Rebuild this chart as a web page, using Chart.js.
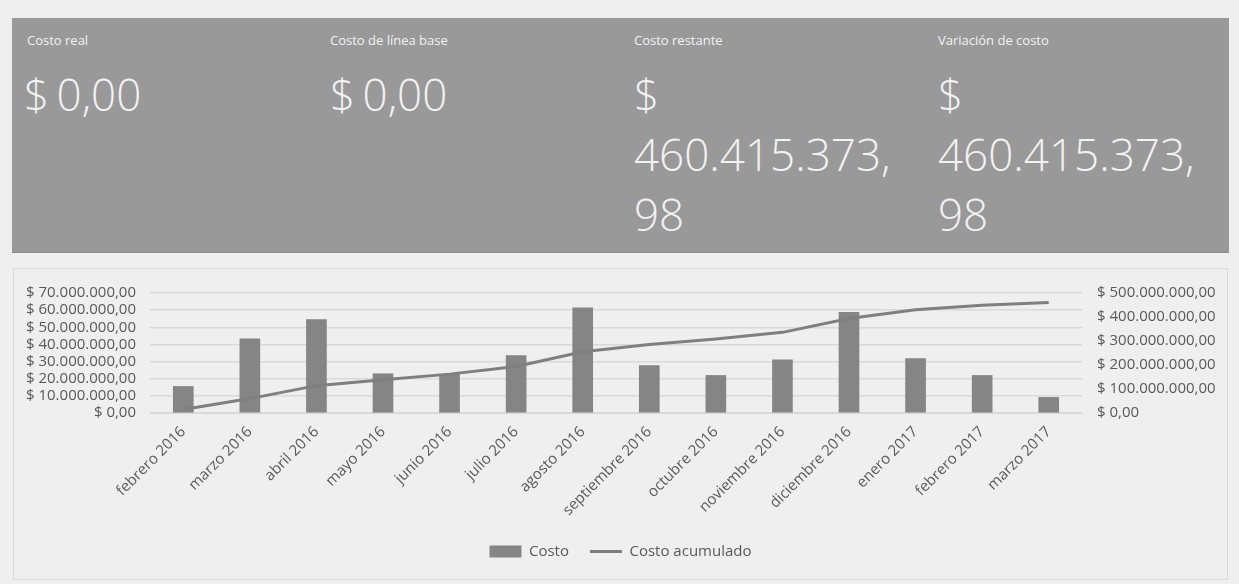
<!DOCTYPE html>
<html>
<head>
<meta charset="utf-8">
<script src="https://cdn.jsdelivr.net/npm/chart.js@4.4.1/dist/chart.umd.min.js"></script>
<style>
  html, body { margin: 0; padding: 0; background: #efefef; }
  body { width: 1239px; height: 584px; position: relative; overflow: hidden; font-family: "Open Sans", "Noto Sans", sans-serif; }
  .panel { position: absolute; left: 12px; top: 18px; width: 1217px; height: 234px; background: #999999; border-bottom: 1px solid #8c8c8c; }
  .kpi { position: absolute; top: 0; width: 300px; color: #f2f2f2; }
  .kpi .lbl { position: absolute; top: 14px; font-size: 13px; line-height: 16px; white-space: nowrap; }
  .kpi .val { position: absolute; top: 46px; font-size: 44px; line-height: 60px; font-weight: 300; white-space: nowrap; word-spacing: -4px; }
  .box { position: absolute; left: 13px; top: 268px; width: 1213px; height: 310px; border: 1px solid #d9d9d9; background: #efefef; }
  .box canvas { position: absolute; left: 0; top: 0; }
</style>
</head>
<body>
<div class="panel">
  <div class="kpi" style="left:12px"><div class="lbl" style="left:3px">Costo real</div><div class="val">$ 0,00</div></div>
  <div class="kpi" style="left:318px"><div class="lbl">Costo de línea base</div><div class="val">$ 0,00</div></div>
  <div class="kpi" style="left:622px"><div class="lbl">Costo restante</div><div class="val">$<br>460.415.373,<br>98</div></div>
  <div class="kpi" style="left:926px"><div class="lbl">Variación de costo</div><div class="val">$<br>460.415.373,<br>98</div></div>
</div>
<div class="box"><canvas id="c" width="1213" height="310"></canvas></div>
<script>
const months = ['febrero 2016', 'marzo 2016', 'abril 2016', 'mayo 2016', 'junio 2016', 'julio 2016', 'agosto 2016',
  'septiembre 2016', 'octubre 2016', 'noviembre 2016', 'diciembre 2016', 'enero 2017', 'febrero 2017', 'marzo 2017'];
// monthly cost (bars, left axis)
const costo = [15500000, 43200000, 54500000, 22900000, 22500000, 33500000, 61400000,
  27600000, 21900000, 31000000, 58700000, 31800000, 21900000, 9100000];
// cumulative cost (line, right axis)
const costoAcumulado = [15000000, 60000000, 114000000, 139000000, 162000000, 194000000, 255000000,
  285000000, 308000000, 336000000, 394000000, 430000000, 449000000, 460400000];
const leftTicks = [0, 70000000, 10000000];   // min, max, step
const rightTicks = [0, 500000000, 100000000];

const money = v => '$ ' + Math.round(v).toString().replace(/\B(?=(\d{3})+(?!\d))/g, '.') + ',00';

const txt = '#595959';
Chart.defaults.font.family = '"Open Sans", "Noto Sans", sans-serif';
Chart.defaults.font.size = 15;
Chart.defaults.color = txt;

new Chart(document.getElementById('c'), {
  data: {
    labels: months,
    datasets: [
      { type: 'line', label: 'Costo acumulado', data: costoAcumulado, yAxisID: 'y2',
        borderColor: '#7f7f7f', backgroundColor: '#7f7f7f', borderWidth: 3, pointRadius: 0, tension: 0, order: 0 },
      { type: 'bar', label: 'Costo', data: costo, yAxisID: 'y',
        backgroundColor: '#858585', barThickness: 20, order: 1 },
    ],
  },
  options: {
    responsive: false,
    animation: false,
    layout: { padding: { top: 17, left: 0, right: 0, bottom: 10 } },
    scales: {
      x: {
        grid: { display: false },
        border: { color: '#d9d9d9' },
        ticks: { maxRotation: 45, minRotation: 45, padding: 2, autoSkip: false },
        afterFit: s => { s.height = 110; },
      },
      y: {
        position: 'left',
        min: leftTicks[0], max: leftTicks[1],
        ticks: { stepSize: leftTicks[2], padding: 14, autoSkip: false, callback: money },
        grid: { color: '#d9d9d9', lineWidth: 1.5, drawTicks: false },
        border: { display: false },
        afterFit: s => { s.width = 136; },
      },
      y2: {
        position: 'right',
        min: rightTicks[0], max: rightTicks[1],
        ticks: { stepSize: rightTicks[2], padding: 15, autoSkip: false, callback: money },
        grid: { drawOnChartArea: false, drawTicks: false },
        border: { display: false },
        afterFit: s => { s.width = 145; },
      },
    },
    plugins: {
      legend: {
        position: 'bottom',
        reverse: true,
        labels: {
          padding: 21,
          usePointStyle: true,
          pointStyleWidth: 32,
          boxHeight: 12,
          generateLabels: chart => chart.data.datasets.map((ds, i) => ({
            text: ds.label,
            pointStyle: ds.type === 'bar' ? 'rect' : 'line',
            fillStyle: ds.type === 'bar' ? ds.backgroundColor : ds.borderColor,
            strokeStyle: ds.type === 'bar' ? ds.backgroundColor : ds.borderColor,
            lineWidth: ds.type === 'bar' ? 0 : 3,
            datasetIndex: i,
            fontColor: txt,
          })),
        },
      },
      tooltip: { enabled: false },
    },
  },
});
</script>
</body>
</html>
